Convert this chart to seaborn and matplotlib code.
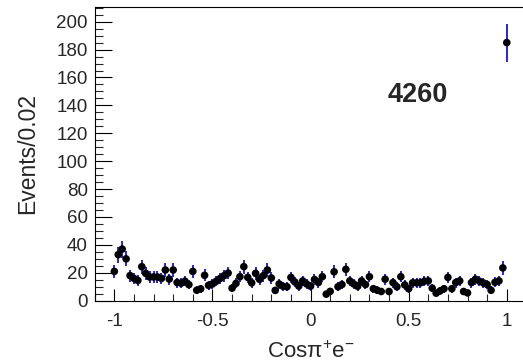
import numpy as np
import pandas as pd
import matplotlib
matplotlib.use("Agg")
import matplotlib.pyplot as plt
from matplotlib.ticker import MultipleLocator
import seaborn as sns

# bin centres of cos(pi+ e-) in steps of 0.02
cos_bins = [round(-1.0 + 0.02 * i, 2) for i in range(101)]
events = [21, 33, 37, 30, 18, 16, 14.5, 24.4, 19.6, 17, 17, 17, 16, 22, 15.5, 22, 13,
          12.5, 14, 11.5, 21, 7.5, 8.5, 18.2, 11, 12, 14, 16, 18, 19.8, 9, 12.4, 17.2,
          24.4, 16.7, 12.8, 19.6, 15.3, 18, 22, 16.3, 7.4, 12, 10.3, 10, 16.7, 13.4,
          10.5, 14.2, 12, 10.4, 15.2, 13, 17.2, 4.7, 6.7, 20.7, 10, 11.6, 22.5, 14.2,
          12, 10.3, 14.2, 11.6, 17.2, 8.6, 7.5, 6.6, 15.4, 6.6, 13, 10, 17.2, 11.3,
          8.6, 12.8, 12.8, 12.8, 14, 14.2, 9, 5.4, 7, 8.6, 16.7, 8.6, 13, 14.2, 6.6,
          5.6, 13, 15.4, 14, 12.8, 11.6, 7.5, 13.2, 14.2, 23.5, 185]
label_text = "4260"
x_label = r"Cos$\mathrm{\pi}^{+}$e$^{-}$"
y_label = "Events/0.02"

df = pd.DataFrame({"x": cos_bins, "y": events})
df["err"] = np.sqrt(df["y"])

sns.set_theme(style="ticks")
plt.rcParams["font.family"] = ["Liberation Sans", "DejaVu Sans"]
plt.rcParams["mathtext.fontset"] = "custom"
plt.rcParams["mathtext.rm"] = "Liberation Sans"
plt.rcParams["mathtext.it"] = "Liberation Sans:italic"
plt.rcParams["mathtext.bf"] = "Liberation Sans:bold"

W, H = 523, 364
fig = plt.figure(figsize=(W / 100, H / 100), dpi=100)
left, right, top, bottom = 94.7, 526.4, 7.3, 300.7
ax = fig.add_axes([left / W, 1 - bottom / H, (right - left) / W, (bottom - top) / H])

ax.errorbar(df["x"], df["y"], yerr=df["err"], fmt="none", ecolor="#0000dd",
            elinewidth=1.2, capsize=0, zorder=2)
sns.scatterplot(data=df, x="x", y="y", ax=ax, color="black", s=30,
                edgecolor="none", zorder=3)

ax.set_xlim(-1.1, 1.1)
ax.set_ylim(0, 210.3)
ax.xaxis.set_major_locator(MultipleLocator(0.5))
ax.xaxis.set_minor_locator(MultipleLocator(0.1))
ax.yaxis.set_major_locator(MultipleLocator(20))
ax.yaxis.set_minor_locator(MultipleLocator(5))
ax.set_xticks([-1, -0.5, 0, 0.5, 1])
ax.set_xticklabels(["-1", "-0.5", "0", "0.5", "1"])
ax.tick_params(axis="both", which="major", direction="in", labelsize=13.5,
               color="black", width=0.8)
ax.tick_params(axis="x", which="major", length=9, pad=9)
ax.tick_params(axis="y", which="major", length=12, pad=5)
ax.tick_params(axis="x", which="minor", direction="in", length=5, width=0.8)
ax.tick_params(axis="y", which="minor", direction="in", length=6, width=0.8)
for sp in ax.spines.values():
    sp.set_color("black")
    sp.set_linewidth(0.8)

ax.set_xlabel(x_label, fontsize=16, labelpad=8)
ax.set_ylabel(y_label, fontsize=16.5, labelpad=12)
ax.text(0.391, 142.4, label_text, fontsize=19.5, fontweight="bold", ha="left",
        va="baseline")

fig.savefig("out.png", dpi=100)
